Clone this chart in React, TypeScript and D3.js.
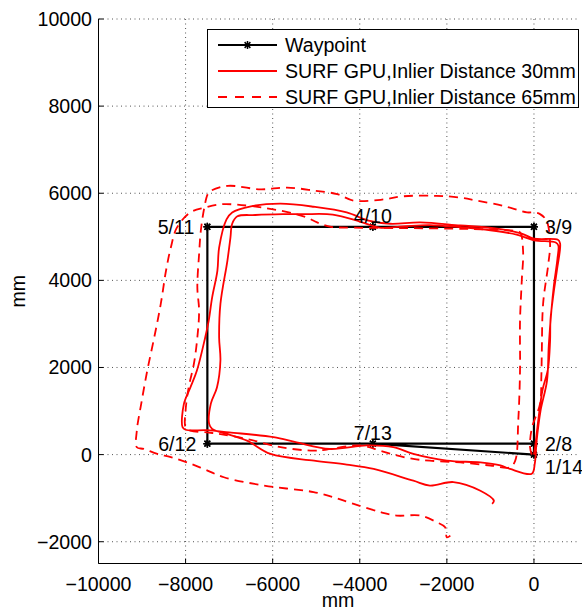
import React from "react";
import * as d3 from "d3";

// axis ticks
const xTicks = [-10000, -8000, -6000, -4000, -2000, 0];
const yTicks = [-2000, 0, 2000, 4000, 6000, 8000, 10000];

// waypoint path (mm)
const waypointX = [0, 0, 0, -3700, -7500, -7500, -3700, 0, 0, -3700, -7500, -7500, -3700, 0];
const waypointY = [0, 250, 5230, 5230, 5230, 250, 250, 250, 5230, 5230, 5230, 250, 250, 0];
const waypointLabels = ["1/14", "2/8", "3/9", "4/10", "5/11", "6/12", "7/13"];

// SURF GPU, inlier distance 30mm (two laps)
const surf30: [number, number][] = [
  [0, 0], [30, 200], [100, 800], [200, 1500], [320, 1950], [370, 2600], [380, 3100],
  [450, 3700], [530, 4250], [600, 4850], [550, 4930], [0, 4960], [-300, 5080],
  [-930, 5200], [-1690, 5260], [-2610, 5330], [-3300, 5300], [-3800, 5370],
  [-4300, 5560], [-5060, 5690], [-5820, 5760], [-6500, 5700], [-6930, 5560],
  [-7060, 5400], [-7230, 4750], [-7270, 4220], [-7390, 3610], [-7470, 3070],
  [-7550, 2690], [-7740, 1930], [-7890, 1540], [-8040, 1160], [-8070, 630],
  [-8000, 570], [-7500, 560], [-7000, 510], [-5980, 400], [-5450, 280],
  [-4690, 130], [-3840, 210], [-3230, 170], [-2770, 15], [-2000, -140],
  [-1230, -180], [-770, -250], [-550, -330], [-50, -440],
  [20, -200], [60, 300], [150, 1000], [300, 1700], [340, 2500], [400, 3300],
  [460, 3900], [540, 4500], [560, 4800], [500, 4870], [0, 4920], [-400, 5050],
  [-1000, 5150], [-1700, 5220], [-2400, 5270], [-3000, 5240], [-3550, 5210],
  [-4000, 5350], [-4620, 5510], [-5300, 5520], [-5770, 5520], [-6400, 5500],
  [-6810, 5470], [-6930, 5300], [-6970, 4980], [-7040, 4450], [-7200, 3460],
  [-7230, 2690], [-7200, 2160], [-7280, 1540], [-7420, 1170], [-7460, 710],
  [-7390, 590], [-7000, 460], [-6590, 320], [-6050, 15], [-5050, -140],
  [-4300, -230], [-3680, -330], [-2770, -600], [-2390, -710], [-1850, -630],
  [-1230, -830], [-920, -1060], [-960, -1130],
];

// SURF GPU, inlier distance 65mm
const surf65: [number, number][] = [
  [-50, 0], [-90, 170], [-50, 600], [140, 1170], [170, 1800], [180, 2320],
  [210, 3460], [330, 4380], [370, 4840], [290, 5370], [140, 5520], [0, 5560],
  [-160, 5560], [-700, 5710], [-1310, 5830], [-1690, 5900], [-2240, 5940],
  [-3000, 5930], [-3520, 5850], [-4140, 5830], [-4520, 5980], [-5040, 6060],
  [-5670, 6130], [-6280, 6090], [-7030, 6170], [-7410, 6060], [-7490, 5980],
  [-7570, 5670], [-7650, 5140], [-7690, 4600], [-7730, 3840], [-7690, 3300],
  [-7730, 2690], [-7810, 2080], [-7930, 1540], [-8000, 1010], [-8000, 630],
  [-7890, 550], [-7510, 510], [-7200, 470], [-6590, 360], [-5820, 170],
  [-5060, 90], [-4760, 115], [-3990, 210], [-3530, 90], [-3150, -20],
  [-2770, -100], [-2390, -140], [-1690, -180], [-1000, -250], [-550, -290],
  [-430, -140], [-360, 780], [-320, 1930], [-320, 3070], [-280, 3990],
  [-250, 4680], [-320, 5100], [-470, 5140], [-1500, 5180], [-3000, 5200],
  [-4140, 5210], [-4660, 5230], [-4980, 5330], [-5210, 5440], [-5820, 5600],
  [-7120, 5750], [-7570, 5670], [-7890, 5560], [-8200, 5210], [-8340, 4750],
  [-8450, 4220], [-8570, 3460], [-8720, 2690], [-8880, 1930], [-9020, 1160],
  [-9120, 550], [-9120, 170], [-8960, 130], [-8650, 15], [-8340, -60],
  [-7960, -180], [-7580, -330], [-7120, -520], [-6200, -710], [-5590, -790],
  [-5060, -860], [-4600, -980], [-4140, -1130], [-3530, -1320], [-3150, -1400],
  [-2610, -1400], [-2240, -1550], [-2040, -1670], [-2000, -1900], [-1920, -1860],
];

const legendItems = [
  "Waypoint",
  "SURF GPU,Inlier Distance 30mm",
  "SURF GPU,Inlier Distance 65mm",
];

const W = 582;
const H = 612;
const FONT = "'Liberation Sans', Arial, Helvetica, sans-serif";
const FS = 19.6;

function Star({ x, y, r = 4 }: { x: number; y: number; r?: number }) {
  const d = r * 0.72;
  return (
    <g stroke="#000" strokeWidth={1.5}>
      <line x1={x - r} y1={y} x2={x + r} y2={y} />
      <line x1={x} y1={y - r} x2={x} y2={y + r} />
      <line x1={x - d} y1={y - d} x2={x + d} y2={y + d} />
      <line x1={x - d} y1={y + d} x2={x + d} y2={y - d} />
    </g>
  );
}

export default function App() {
  const left = 98.5, right = 577.5, top = 19, bottom = 563.5;
  const x = d3.scaleLinear().domain([-10000, 1000]).range([left, right]);
  const y = d3.scaleLinear().domain([-2500, 10000]).range([bottom, top]);

  const line = d3
    .line<[number, number]>()
    .x((d) => x(d[0]))
    .y((d) => y(d[1]))
    .curve(d3.curveCatmullRom.alpha(0.5));
  const straight = d3
    .line<[number, number]>()
    .x((d) => x(d[0]))
    .y((d) => y(d[1]));

  const waypoints: [number, number][] = waypointX.map((v, i) => [v, waypointY[i]]);

  // label placement for each distinct waypoint
  const labelPos: { dx: number; dy: number; anchor: string }[] = [
    { dx: 11, dy: 19.5, anchor: "start" },
    { dx: 11, dy: 7, anchor: "start" },
    { dx: 11, dy: 7, anchor: "start" },
    { dx: 0, dy: -3.5, anchor: "middle" },
    { dx: -13, dy: 7, anchor: "end" },
    { dx: -11, dy: 7, anchor: "end" },
    { dx: 0, dy: -4, anchor: "middle" },
  ];

  const legX = 207.5, legY = 29.5, legW = 371, legH = 78;
  const rowY = [45, 71, 97];

  return (
    <svg
      width={W}
      height={H}
      style={{ position: "absolute", left: 0, top: 0, background: "#fff" }}
      fontFamily={FONT}
    >
      {/* grid */}
      <g stroke="#555" strokeWidth={1} strokeDasharray="1,3.5">
        {xTicks.map((t) => (
          <line key={"gx" + t} x1={x(t)} x2={x(t)} y1={top} y2={bottom} />
        ))}
        {yTicks.map((t) => (
          <line key={"gy" + t} x1={left} x2={right} y1={y(t)} y2={y(t)} />
        ))}
      </g>

      {/* waypoint path */}
      <path d={straight(waypoints) ?? ""} fill="none" stroke="#000" strokeWidth={2.2} />
      {waypoints.map((p, i) => (
        <Star key={"s" + i} x={x(p[0])} y={y(p[1])} />
      ))}

      {/* trajectories */}
      <path d={line(surf30) ?? ""} fill="none" stroke="#ff0000" strokeWidth={1.8} strokeLinejoin="round" />
      <path
        d={line(surf65) ?? ""}
        fill="none"
        stroke="#ff0000"
        strokeWidth={1.8}
        strokeDasharray="9,6"
      />

      {/* waypoint labels */}
      {waypointLabels.map((lab, i) => (
        <text
          key={lab}
          x={x(waypointX[i]) + labelPos[i].dx}
          y={y(waypointY[i]) + labelPos[i].dy}
          textAnchor={labelPos[i].anchor}
          fontSize={FS}
          fill="#000"
        >
          {lab}
        </text>
      ))}

      {/* axes */}
      <g stroke="#000" strokeWidth={1}>
        <line x1={left} x2={left} y1={top} y2={bottom} />
        <line x1={left} x2={W} y1={bottom} y2={bottom} />
        {xTicks.map((t) => (
          <line key={"tx" + t} x1={x(t)} x2={x(t)} y1={bottom} y2={bottom - 5} />
        ))}
        {yTicks.map((t) => (
          <line key={"ty" + t} x1={left} x2={left + 5} y1={y(t)} y2={y(t)} />
        ))}
      </g>
      {xTicks.map((t) => (
        <text key={"lx" + t} x={x(t)} y={591} textAnchor="middle" fontSize={FS}>
          {t < 0 ? "\u2212" + Math.abs(t) : String(t)}
        </text>
      ))}
      {yTicks.map((t) => (
        <text key={"ly" + t} x={92} y={y(t) + 7} textAnchor="end" fontSize={FS}>
          {t < 0 ? "\u2212" + Math.abs(t) : String(t)}
        </text>
      ))}
      <text x={(left + right) / 2} y={607} textAnchor="middle" fontSize={FS}>
        mm
      </text>
      <text
        transform={`translate(25,${(top + bottom) / 2}) rotate(-90)`}
        textAnchor="middle"
        fontSize={FS}
      >
        mm
      </text>

      {/* legend */}
      <rect x={legX} y={legY} width={legW} height={legH} fill="#fff" stroke="#000" strokeWidth={1} />
      {legendItems.map((item, i) => (
        <g key={item}>
          <line
            x1={218}
            x2={277}
            y1={rowY[i]}
            y2={rowY[i]}
            stroke={i === 0 ? "#000" : "#ff0000"}
            strokeWidth={i === 0 ? 2 : 1.8}
            strokeDasharray={i === 2 ? "9,8" : undefined}
          />
          {i === 0 && <Star x={247.5} y={rowY[i]} />}
          <text x={285} y={rowY[i] + 7} fontSize={FS}>
            {item}
          </text>
        </g>
      ))}
    </svg>
  );
}
